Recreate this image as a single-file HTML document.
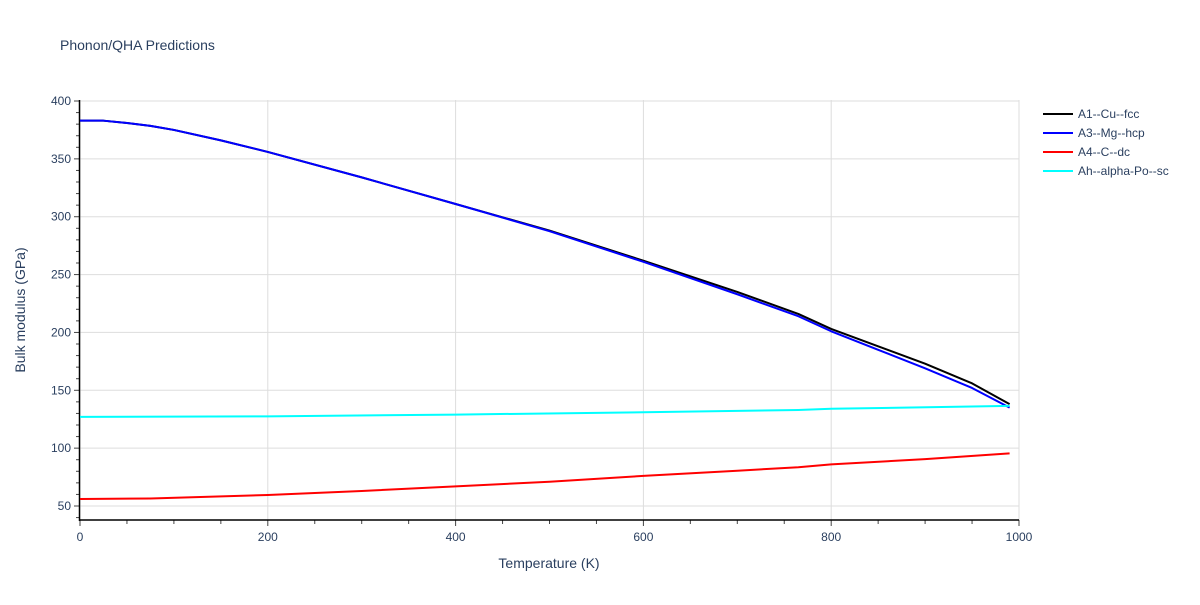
<!DOCTYPE html>
<html><head><meta charset="utf-8"><style>body{margin:0;background:#fff}svg text{font-family:"Liberation Sans",sans-serif;fill:#2a3f5f}</style></head>
<body>
<svg id="c" width="1200" height="600" xmlns="http://www.w3.org/2000/svg">
<text x="60" y="50" font-size="14">Phonon/QHA Predictions</text>
<g id="grid"></g><g id="axes"></g><g id="lines"></g><g id="legend"></g>
<text x="549" y="568" font-size="14" text-anchor="middle">Temperature (K)</text>
<text transform="translate(25,310) rotate(-90)" font-size="14" text-anchor="middle">Bulk modulus (GPa)</text>
</svg>
<script>
const temps=[0,25,50,75,100,150,200,300,400,500,600,700,765,800,850,900,950,990];
const a1=[383,383,381,378.5,375,366,356,334,311,288,262,235,216,203,188,173,156,138];
const a3=[383,383,381,378.5,375,366,356,334,311,287.5,261,233,214,201,185,169,152,135];
const a4T=[0,75,200,300,400,500,600,700,765,800,900,990];
const a4=[56,56.5,59.5,63,67,71,76,80.5,83.5,86,90.5,95.5];
const ahT=[0,200,400,600,765,800,990];
const ah=[127,127.5,129,131,133,134,136.5];
const xTicks=[0,200,400,600,800,1000];
const yTicks=[50,100,150,200,250,300,350,400];
const seriesNames=["A1--Cu--fcc","A3--Mg--hcp","A4--C--dc","Ah--alpha-Po--sc"];
const NS="http://www.w3.org/2000/svg";
const X=v=>80+v*0.939, Y=v=>506-(v-50)*1.1571;
function mk(p,t,a){const e=document.createElementNS(NS,t);for(const k in a)e.setAttribute(k,a[k]);document.getElementById(p).appendChild(e);return e;}
xTicks.forEach(v=>{const g=mk('grid','line',{x1:X(v),x2:X(v),y1:100,y2:520,stroke:'#ddd'});

const t=mk('axes','text',{x:X(v),y:541,'font-size':12,'text-anchor':'middle'});t.textContent=v;
});
for(let v=0;v<=1000;v+=50){const k=mk('axes','line',{x1:X(v),x2:X(v),y1:520,y2:v%200==0?526:524,stroke:'#444'});}
yTicks.forEach(v=>{const g=mk('grid','line',{x1:80,x2:1019,y1:Y(v),y2:Y(v),stroke:'#ddd'});

const t=mk('axes','text',{x:71,y:Y(v)+4,'font-size':12,'text-anchor':'end'});t.textContent=v;
});
for(let v=40;v<=400;v+=10){const k=mk('axes','line',{x1:80,x2:v%50==0?74:76,y1:Y(v),y2:Y(v),stroke:'#444'});}
let ax=mk('axes','line',{x1:79,x2:1019,y1:520,y2:520,stroke:'#000','stroke-width':1.5});
ax=mk('axes','line',{x1:79.5,x2:79.5,y1:100,y2:521,stroke:'#000','stroke-width':1.5});
const S=[[temps,a1,'#000'],[temps,a3,'#0000ff'],[a4T,a4,'#ff0000'],[ahT,ah,'#00ffff']];
S.forEach((s,i)=>{const p=mk('lines','polyline',{points:s[0].map((t,j)=>X(t)+','+Y(s[1][j])).join(' '),fill:'none',stroke:s[2],'stroke-width':2,'stroke-linejoin':'round'});

const ly=114+i*19;const l=mk('legend','line',{x1:1043,x2:1073,y1:ly,y2:ly,stroke:s[2],'stroke-width':2});

const t=mk('legend','text',{x:1078,y:ly+4,'font-size':12});t.textContent=seriesNames[i];
});
</script>
</body></html>
